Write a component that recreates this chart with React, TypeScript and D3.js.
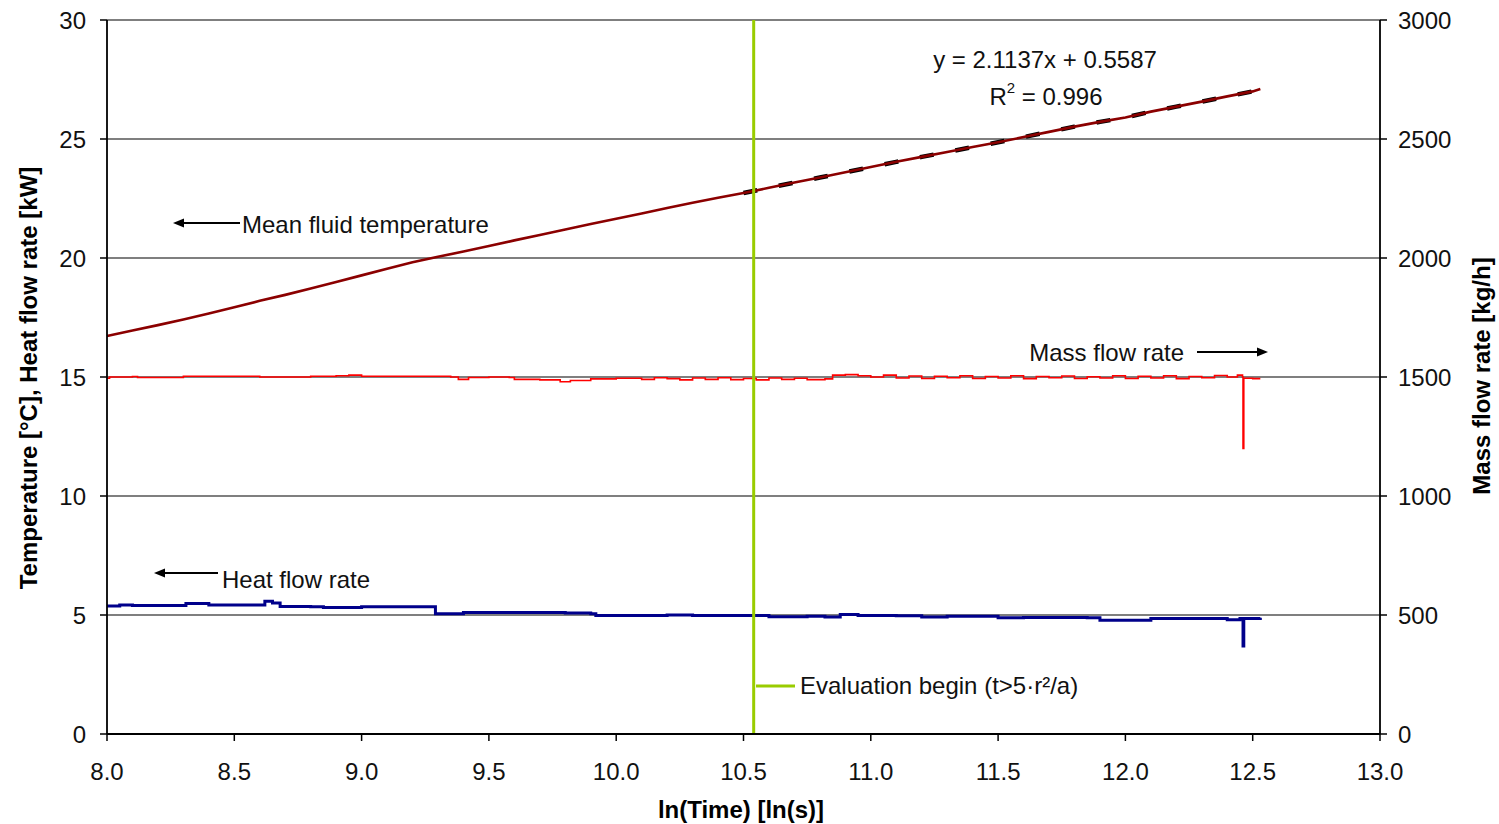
import React from "react";
import * as d3 from "d3";

// ---- data ----
const xTicks = [8.0, 8.5, 9.0, 9.5, 10.0, 10.5, 11.0, 11.5, 12.0, 12.5, 13.0];
const leftTicks = [0, 5, 10, 15, 20, 25, 30];
const rightTicks = [0, 500, 1000, 1500, 2000, 2500, 3000];

const tempX = [8.0, 8.1, 8.2, 8.3, 8.4, 8.5, 8.6, 8.7, 8.8, 8.9, 9.0, 9.1, 9.2, 9.3, 9.4, 9.5, 9.6, 9.7, 9.8, 9.9, 10.0, 10.1, 10.2, 10.3, 10.4, 10.5, 10.6, 10.7, 10.8, 10.9, 11.0, 11.1, 11.2, 11.3, 11.4, 11.5, 11.6, 11.7, 11.8, 11.9, 12.0, 12.1, 12.2, 12.3, 12.4, 12.5, 12.53];
const tempY = [16.72, 16.95, 17.18, 17.42, 17.67, 17.93, 18.2, 18.45, 18.72, 18.99, 19.27, 19.55, 19.82, 20.05, 20.27, 20.5, 20.74, 20.97, 21.2, 21.43, 21.65, 21.87, 22.1, 22.32, 22.53, 22.73, 22.95, 23.17, 23.38, 23.6, 23.82, 24.04, 24.25, 24.45, 24.66, 24.86, 25.08, 25.3, 25.52, 25.72, 25.9, 26.15, 26.36, 26.57, 26.79, 27.0, 27.1];

const heatX = [8.0, 8.05, 8.1, 8.3, 8.31, 8.39, 8.4, 8.6, 8.62, 8.65, 8.68, 8.8, 8.85, 9.0, 9.27, 9.29, 9.4, 9.6, 9.8, 9.9, 9.92, 10.2, 10.3, 10.54, 10.6, 10.75, 10.82, 10.88, 10.95, 11.1, 11.2, 11.3, 11.5, 11.6, 11.7, 11.85, 11.9, 12.0, 12.1, 12.3, 12.4, 12.45, 12.46, 12.462, 12.465, 12.53];
const heatY = [5.38, 5.42, 5.4, 5.4, 5.48, 5.48, 5.42, 5.42, 5.58, 5.5, 5.36, 5.35, 5.32, 5.35, 5.35, 5.05, 5.1, 5.1, 5.08, 5.05, 4.98, 5.0, 4.98, 4.98, 4.93, 4.95, 4.92, 5.02, 4.98, 4.97, 4.92, 4.95, 4.88, 4.9, 4.9, 4.88, 4.78, 4.78, 4.85, 4.85, 4.8, 4.85, 4.85, 3.7, 4.85, 4.88];

const massX = [8.0, 8.01, 8.1, 8.12, 8.3, 8.5, 8.6, 8.8, 8.9, 8.95, 9.0, 9.2, 9.35, 9.38, 9.42, 9.5, 9.58, 9.6, 9.7, 9.78, 9.82, 9.9, 10.0, 10.1, 10.15, 10.2, 10.25, 10.3, 10.35, 10.4, 10.45, 10.5, 10.55, 10.6, 10.65, 10.7, 10.75, 10.82, 10.85, 10.9, 10.95, 11.0, 11.05, 11.1, 11.15, 11.2, 11.25, 11.3, 11.35, 11.4, 11.45, 11.5, 11.55, 11.6, 11.65, 11.7, 11.75, 11.8, 11.85, 11.9, 11.95, 12.0, 12.05, 12.1, 12.15, 12.2, 12.25, 12.3, 12.35, 12.4, 12.44, 12.46, 12.462, 12.465, 12.5, 12.53];
const massY = [1495, 1500, 1502, 1498, 1503, 1503, 1500, 1503, 1505, 1508, 1503, 1503, 1500, 1490, 1498, 1500, 1498, 1490, 1488, 1480, 1485, 1492, 1495, 1490, 1497, 1493, 1488, 1496, 1490, 1497, 1489, 1494, 1488, 1496, 1490, 1495, 1489, 1492, 1508, 1510, 1505, 1500, 1508, 1496, 1504, 1494, 1503, 1497, 1505, 1494, 1502, 1496, 1505, 1493, 1502, 1497, 1504, 1494, 1501, 1496, 1505, 1494, 1503, 1496, 1505, 1493, 1502, 1497, 1506, 1500, 1508, 1500, 1200, 1495, 1493, 1493];

const evalBegin = 10.54;
const eqText = "y = 2.1137x + 0.5587";

// ---- layout ----
const W = 1499, H = 824;
const x = d3.scaleLinear().domain([8, 13]).range([107, 1380]);
const yL = d3.scaleLinear().domain([0, 30]).range([734, 20]);
const yR = d3.scaleLinear().domain([0, 3000]).range([734, 20]);

const FONT = "'Liberation Sans', Arial, sans-serif";

export default function App() {
  const tempPts = tempX.map((v, i) => [v, tempY[i]] as [number, number]);
  const heatPts = heatX.map((v, i) => [v, heatY[i]] as [number, number]);
  const massPts = massX.map((v, i) => [v, massY[i]] as [number, number]);

  const lineL = d3.line<[number, number]>().x(d => x(d[0])).y(d => yL(d[1]));
  const stepL = d3.line<[number, number]>().x(d => x(d[0])).y(d => yL(d[1])).curve(d3.curveStepAfter);
  const stepR = d3.line<[number, number]>().x(d => x(d[0])).y(d => yR(d[1])).curve(d3.curveStepAfter);
  const evalPts = tempPts.filter(d => d[0] >= evalBegin - 0.05);

  const arrowHead = (tipX: number, y: number, dir: number) => {
    const l = 11, h = 4.5;
    return `M${tipX},${y} L${tipX - dir * l},${y - h} L${tipX - dir * l},${y + h} Z`;
  };

  return (
    <svg width={W} height={H} style={{ position: "fixed", left: 0, top: 0, background: "#fff" }} fontFamily={FONT}>
      {/* gridlines */}
      {leftTicks.filter(t => t > 0).map(t => (
        <line key={"g" + t} x1={x(8)} x2={x(13)} y1={yL(t)} y2={yL(t)} stroke="#000" strokeWidth={1.2} />
      ))}
      {/* series */}
      <path d={lineL(evalPts) || ""} fill="none" stroke="#000" strokeWidth={4.5} strokeDasharray="14 22" />
      <path d={lineL(tempPts) || ""} fill="none" stroke="#8b0000" strokeWidth={2.6} />
      <path d={stepR(massPts) || ""} fill="none" stroke="#ff0000" strokeWidth={1.6} />
      <path d={stepL(heatPts) || ""} fill="none" stroke="#00008b" strokeWidth={3} />
      {/* evaluation line */}
      <line x1={x(evalBegin)} x2={x(evalBegin)} y1={yL(30)} y2={yL(0)} stroke="#99cc00" strokeWidth={3} />

      {/* axes */}
      <line x1={x(8)} x2={x(8)} y1={yL(30)} y2={yL(0)} stroke="#000" strokeWidth={1.8} />
      <line x1={x(13)} x2={x(13)} y1={yL(30)} y2={yL(0)} stroke="#000" strokeWidth={1.8} />
      <line x1={x(8)} x2={x(13)} y1={yL(0)} y2={yL(0)} stroke="#000" strokeWidth={1.8} />

      {leftTicks.map(t => (
        <g key={"l" + t}>
          <line x1={x(8) - 7} x2={x(8)} y1={yL(t)} y2={yL(t)} stroke="#000" strokeWidth={1.5} />
          <text x={86} y={yL(t)} textAnchor="end" dominantBaseline="central" fontSize={24} fill="#111">{t}</text>
        </g>
      ))}
      {rightTicks.map(t => (
        <g key={"r" + t}>
          <line x1={x(13)} x2={x(13) + 7} y1={yR(t)} y2={yR(t)} stroke="#000" strokeWidth={1.5} />
          <text x={1398} y={yR(t)} textAnchor="start" dominantBaseline="central" fontSize={24} fill="#111">{t}</text>
        </g>
      ))}
      {xTicks.map(t => (
        <g key={"x" + t}>
          <line x1={x(t)} x2={x(t)} y1={yL(0)} y2={yL(0) + 7} stroke="#000" strokeWidth={1.5} />
          <text x={x(t)} y={771} textAnchor="middle" dominantBaseline="central" fontSize={24} fill="#111">{t.toFixed(1)}</text>
        </g>
      ))}

      {/* axis titles */}
      <text x={741} y={809} textAnchor="middle" dominantBaseline="central" fontSize={24} fontWeight="bold">ln(Time) [ln(s)]</text>
      <text transform={`translate(28,378) rotate(-90)`} textAnchor="middle" dominantBaseline="central" fontSize={24} fontWeight="bold">Temperature [°C], Heat flow rate [kW]</text>
      <text transform={`translate(1481,376) rotate(-90)`} textAnchor="middle" dominantBaseline="central" fontSize={24} fontWeight="bold">Mass flow rate [kg/h]</text>

      {/* annotations */}
      <line x1={240} x2={180} y1={223} y2={223} stroke="#000" strokeWidth={1.8} />
      <path d={arrowHead(173, 223, -1)} fill="#000" />
      <text x={242} y={224} dominantBaseline="central" fontSize={24} fill="#111">Mean fluid temperature</text>

      <line x1={218} x2={161} y1={573} y2={573} stroke="#000" strokeWidth={1.8} />
      <path d={arrowHead(154, 573, -1)} fill="#000" />
      <text x={222} y={579} dominantBaseline="central" fontSize={24} fill="#111">Heat flow rate</text>

      <text x={1184} y={352} textAnchor="end" dominantBaseline="central" fontSize={24} fill="#111">Mass flow rate</text>
      <line x1={1197} x2={1261} y1={352} y2={352} stroke="#000" strokeWidth={1.8} />
      <path d={arrowHead(1268, 352, 1)} fill="#000" />

      <line x1={756} x2={795} y1={686} y2={686} stroke="#99cc00" strokeWidth={3} />
      <text x={800} y={685} dominantBaseline="central" fontSize={24} fill="#111">Evaluation begin (t&gt;5·r²/a)</text>

      <text x={1045} y={59} textAnchor="middle" dominantBaseline="central" fontSize={24} fill="#111">{eqText}</text>
      <text x={1046} y={96} textAnchor="middle" dominantBaseline="central" fontSize={24} fill="#111">
        R<tspan dy={-9} fontSize={15}>2</tspan><tspan dy={9}> = 0.996</tspan>
      </text>
    </svg>
  );
}
